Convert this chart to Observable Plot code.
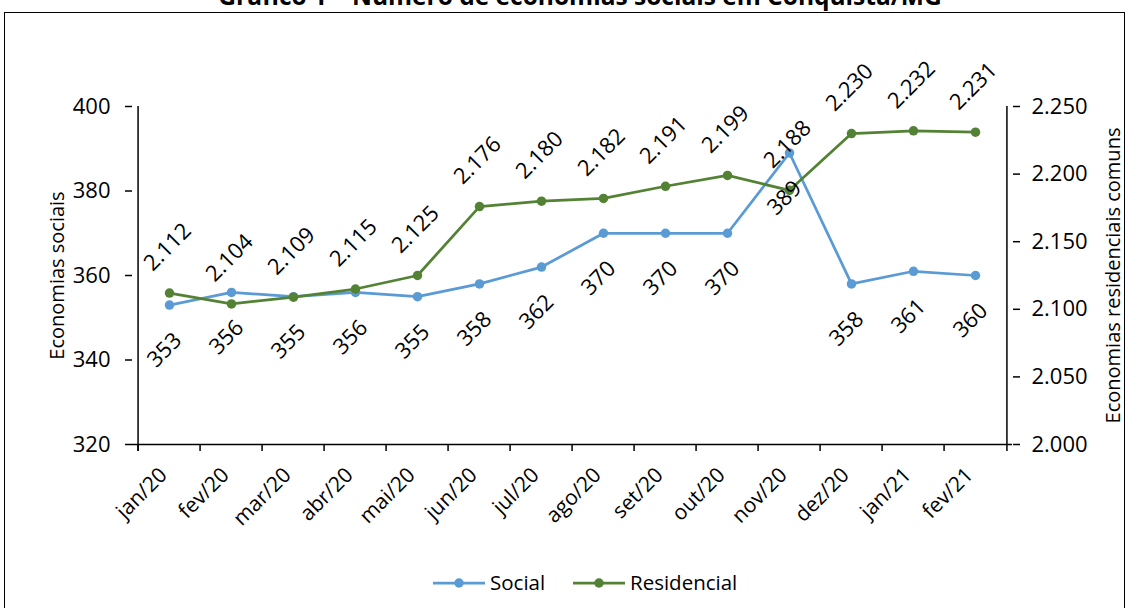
<!DOCTYPE html>
<html>
<head>
<meta charset="utf-8">
<script src="https://cdn.jsdelivr.net/npm/d3@7"></script>
<script src="https://cdn.jsdelivr.net/npm/@observablehq/plot@0.6"></script>
<style>
  html, body { margin: 0; padding: 0; background: #fff; overflow: hidden; }
  body { width: 1128px; height: 608px; position: relative; font-family: "Open Sans", sans-serif; }
  #title { position: absolute; left: 0; top: 0; }
  #frame { position: absolute; left: 4px; top: 12px; width: 1121px; height: 640px; border: 1.5px solid #000; box-sizing: border-box; }
  #chart { position: absolute; left: 0; top: 0; }
  #legend { position: absolute; left: 0; top: 568px; width: 1128px; height: 30px; }
</style>
</head>
<body>
<div id="frame"></div>
<div id="chart"></div>
<svg id="title" width="1128" height="20"></svg>
<svg id="legend" width="1128" height="30"></svg>
<script>
const months = ["jan/20","fev/20","mar/20","abr/20","mai/20","jun/20","jul/20","ago/20","set/20","out/20","nov/20","dez/20","jan/21","fev/21"];
const social = [353, 356, 355, 356, 355, 358, 362, 370, 370, 370, 389, 358, 361, 360];
const residencial = [2112, 2104, 2109, 2115, 2125, 2176, 2180, 2182, 2191, 2199, 2188, 2230, 2232, 2231];
const leftTicks = [320, 340, 360, 380, 400];
const rightTicks = [2000, 2050, 2100, 2150, 2200, 2250];
const leftDomain = [320, 400];
const rightDomain = [2000, 2250];

const seriesNames = ["Social", "Residencial"];
const colors = ["#5B9BD5", "#548235"];
const titleText = "Gráfico 1 – Número de economias sociais em Conquista/MG";

const loc = d3.formatLocale({decimal: ",", thousands: ".", grouping: [3], currency: ["R$", ""]});
const fmt = loc.format(",");

const toLeft = v => leftDomain[0] + (v - rightDomain[0]) * (leftDomain[1] - leftDomain[0]) / (rightDomain[1] - rightDomain[0]);
const fromLeft = v => rightDomain[0] + (v - leftDomain[0]) * (rightDomain[1] - rightDomain[0]) / (leftDomain[1] - leftDomain[0]);

const W = 1128, H = 530, mL = 132, mR = 116, mT = 106, mB = 86;
const step = (W - mL - mR) / months.length;
const pxPerUnit = (H - mT - mB) / (leftDomain[1] - leftDomain[0]);
const tickLen = 7;
const below = leftDomain[0] - tickLen / pxPerUnit;

const idx = d3.range(months.length);
const font = "Open Sans";

const chart = Plot.plot({
  width: W, height: H,
  marginLeft: mL, marginRight: mR, marginTop: mT, marginBottom: mB,
  x: {type: "point", domain: months, padding: 0.5},
  y: {domain: leftDomain},
  style: {fontFamily: font, fontSize: "21px", color: "#000", background: "transparent", overflow: "visible"},
  marks: [
    Plot.axisY({ticks: leftTicks, anchor: "left", tickSize: tickLen, tickPadding: 15, fontSize: 22, label: null, strokeWidth: 1.5}),
    Plot.axisY({ticks: rightTicks.map(toLeft), anchor: "right", tickFormat: v => fmt(Math.round(fromLeft(v))), tickSize: tickLen, tickPadding: 12, fontSize: 22, label: null, strokeWidth: 1.5}),
    Plot.axisX({anchor: "bottom", tickSize: 0, tickRotate: -45, tickPadding: 27, dx: -6, fontSize: 21, label: null}),
    Plot.ruleY([leftDomain[0]], {stroke: "#000", strokeWidth: 1.5}),
    Plot.ruleX(months, {x: d => d, dx: -step / 2, y1: below, y2: leftDomain[0], stroke: "#000", strokeWidth: 1.5}),
    Plot.ruleX([months[0]], {x: d => d, dx: -step / 2, y1: below, y2: leftDomain[1], stroke: "#000", strokeWidth: 1.5}),
    Plot.ruleX([months[months.length - 1]], {x: d => d, dx: step / 2, y1: below, y2: leftDomain[1], stroke: "#000", strokeWidth: 1.5}),
    Plot.text(["Economias sociais"], {frameAnchor: "left", textAnchor: "middle", rotate: -90, dx: -75, fontSize: 20}),
    Plot.text(["Economias residenciais comuns"], {frameAnchor: "right", textAnchor: "middle", rotate: -90, dx: 101, fontSize: 20}),
    Plot.line(idx, {x: i => months[i], y: i => social[i], stroke: colors[0], strokeWidth: 2.75}),
    Plot.dot(idx, {x: i => months[i], y: i => social[i], fill: colors[0], r: 4.75}),
    Plot.line(idx, {x: i => months[i], y: i => toLeft(residencial[i]), stroke: colors[1], strokeWidth: 2.75}),
    Plot.dot(idx, {x: i => months[i], y: i => toLeft(residencial[i]), fill: colors[1], r: 4.75}),
    Plot.text(idx, {x: i => months[i], y: i => social[i], text: i => String(social[i]), rotate: -45, dy: 45, dx: -5, fontSize: 22}),
    Plot.text(idx, {x: i => months[i], y: i => toLeft(residencial[i]), text: i => fmt(residencial[i]), rotate: -45, dy: -46, dx: -2, fontSize: 22})
  ]
});
document.getElementById("chart").appendChild(chart);

// title (above)
const t = d3.select("#title");
t.append("text").attr("x", 580).attr("y", 5).attr("text-anchor", "middle")
  .attr("font-family", font).attr("font-weight", "bold").attr("font-size", 24.5).text(titleText);

// legend (below)
const lg = d3.select("#legend");
const items = [{x: 433}, {x: 573}];
seriesNames.forEach((name, k) => {
  const x0 = items[k].x, cy = 15;
  lg.append("line").attr("x1", x0).attr("x2", x0 + 52).attr("y1", cy).attr("y2", cy).attr("stroke", colors[k]).attr("stroke-width", 2.75);
  lg.append("circle").attr("cx", x0 + 26).attr("cy", cy).attr("r", 4.75).attr("fill", colors[k]);
  lg.append("text").attr("x", x0 + 57).attr("y", cy).attr("dy", "0.35em").attr("font-family", font).attr("font-size", 20.5).text(name);
});
</script>
</body>
</html>
